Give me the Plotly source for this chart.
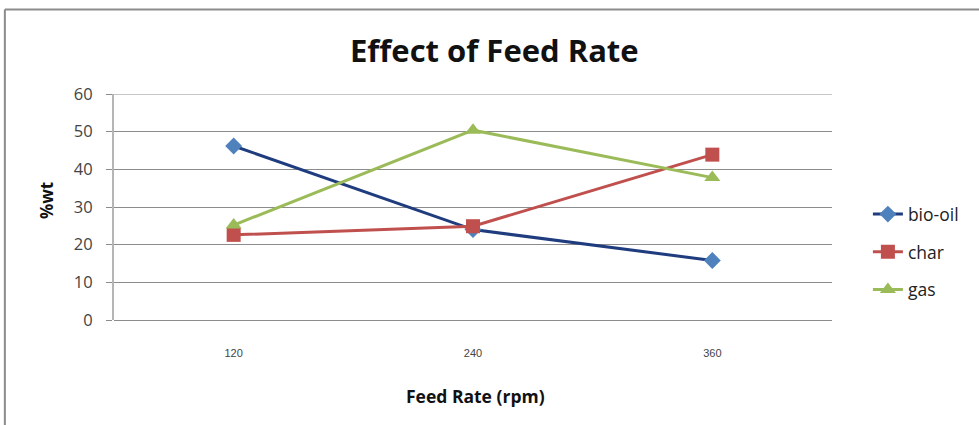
import plotly.graph_objects as go

# Feed rate categories and product yields (%wt)
feed_rates = ["120", "240", "360"]
bio_oil = [46.2, 24.0, 15.8]
char = [22.6, 24.9, 43.9]
gas = [25.2, 50.4, 37.8]

y_ticks = [0, 10, 20, 30, 40, 50, 60]

fig = go.Figure()

fig.add_trace(go.Scatter(
    x=feed_rates, y=bio_oil, name="bio-oil", mode="lines+markers",
    legendgroup="bio-oil",
    line=dict(color="#1F3C7E", width=3),
    marker=dict(symbol="diamond", size=13, color="#4F81BD",
                line=dict(color="#4F81BD", width=0)),
))
fig.add_trace(go.Scatter(
    x=feed_rates, y=char, name="char", mode="lines+markers",
    legendgroup="char",
    line=dict(color="#C0504D", width=3),
    marker=dict(symbol="square", size=14, color="#C0504D"),
))
fig.add_trace(go.Scatter(
    x=feed_rates, y=gas, name="gas", mode="lines+markers",
    legendgroup="gas",
    line=dict(color="#9BBB59", width=3),
    marker=dict(symbol="triangle-up", size=14, color="#9BBB59"),
))

font_family = "'Open Sans', Lato, sans-serif"

fig.update_layout(
    width=979, height=425,
    margin=dict(l=114, r=147, t=94, b=105),
    paper_bgcolor="white", plot_bgcolor="white",
    showlegend=True,
    legend=dict(
        x=1.05, y=0.30, xanchor="left", yanchor="middle",
        font=dict(family=font_family, size=17.5, color="#222"),
        traceorder="grouped", tracegroupgap=12,
        bgcolor="rgba(0,0,0,0)",
    ),
    xaxis=dict(
        type="category", range=[-0.5, 2.5],
        showgrid=False, showline=False, zeroline=False,
        ticks="", ticklabelstandoff=25,
        tickfont=dict(family="Liberation Sans, Arial, sans-serif", size=11, color="#444"),
    ),
    yaxis=dict(
        range=[0, 60], tickvals=y_ticks,
        showgrid=True, gridcolor="#8C8C8C", gridwidth=1,
        showline=True, linecolor="#B5B5B5", linewidth=2,
        zeroline=True, zerolinecolor="#8C8C8C", zerolinewidth=1,
        ticks="outside", ticklen=6, tickcolor="#8C8C8C",
        ticklabelstandoff=10,
        tickfont=dict(family=font_family, size=16.5, color="#444"),
    ),
    annotations=[
        dict(text="<b>Effect of Feed Rate</b>", xref="paper", yref="paper",
             x=0.53, y=1.195, xanchor="center", yanchor="middle", showarrow=False,
             font=dict(family=font_family, size=31, color="#111")),
        dict(text="<b>%wt</b>", xref="paper", yref="paper",
             x=-0.095, y=0.53, xanchor="center", yanchor="middle", showarrow=False,
             textangle=-90, font=dict(family=font_family, size=17, color="#111")),
        dict(text="<b>Feed Rate (rpm)</b>", xref="paper", yref="paper",
             x=0.503, y=-0.335, xanchor="center", yanchor="middle", showarrow=False,
             font=dict(family=font_family, size=17.5, color="#111")),
    ],
    shapes=[
        # top gridline at 60
        dict(type="line", xref="paper", yref="y",
             x0=0, x1=1, y0=60, y1=60, layer="below",
             line=dict(color="#8C8C8C", width=1)),
        # outer chart frame
        dict(type="line", xref="paper", yref="paper",
             x0=-0.152, x1=1.21, y0=1.374, y1=1.374,
             line=dict(color="#8C8C8C", width=2)),
        dict(type="line", xref="paper", yref="paper",
             x0=-0.152, x1=-0.152, y0=1.374, y1=-0.47,
             line=dict(color="#8C8C8C", width=2)),
    ],
)

fig.write_html("out.html")
